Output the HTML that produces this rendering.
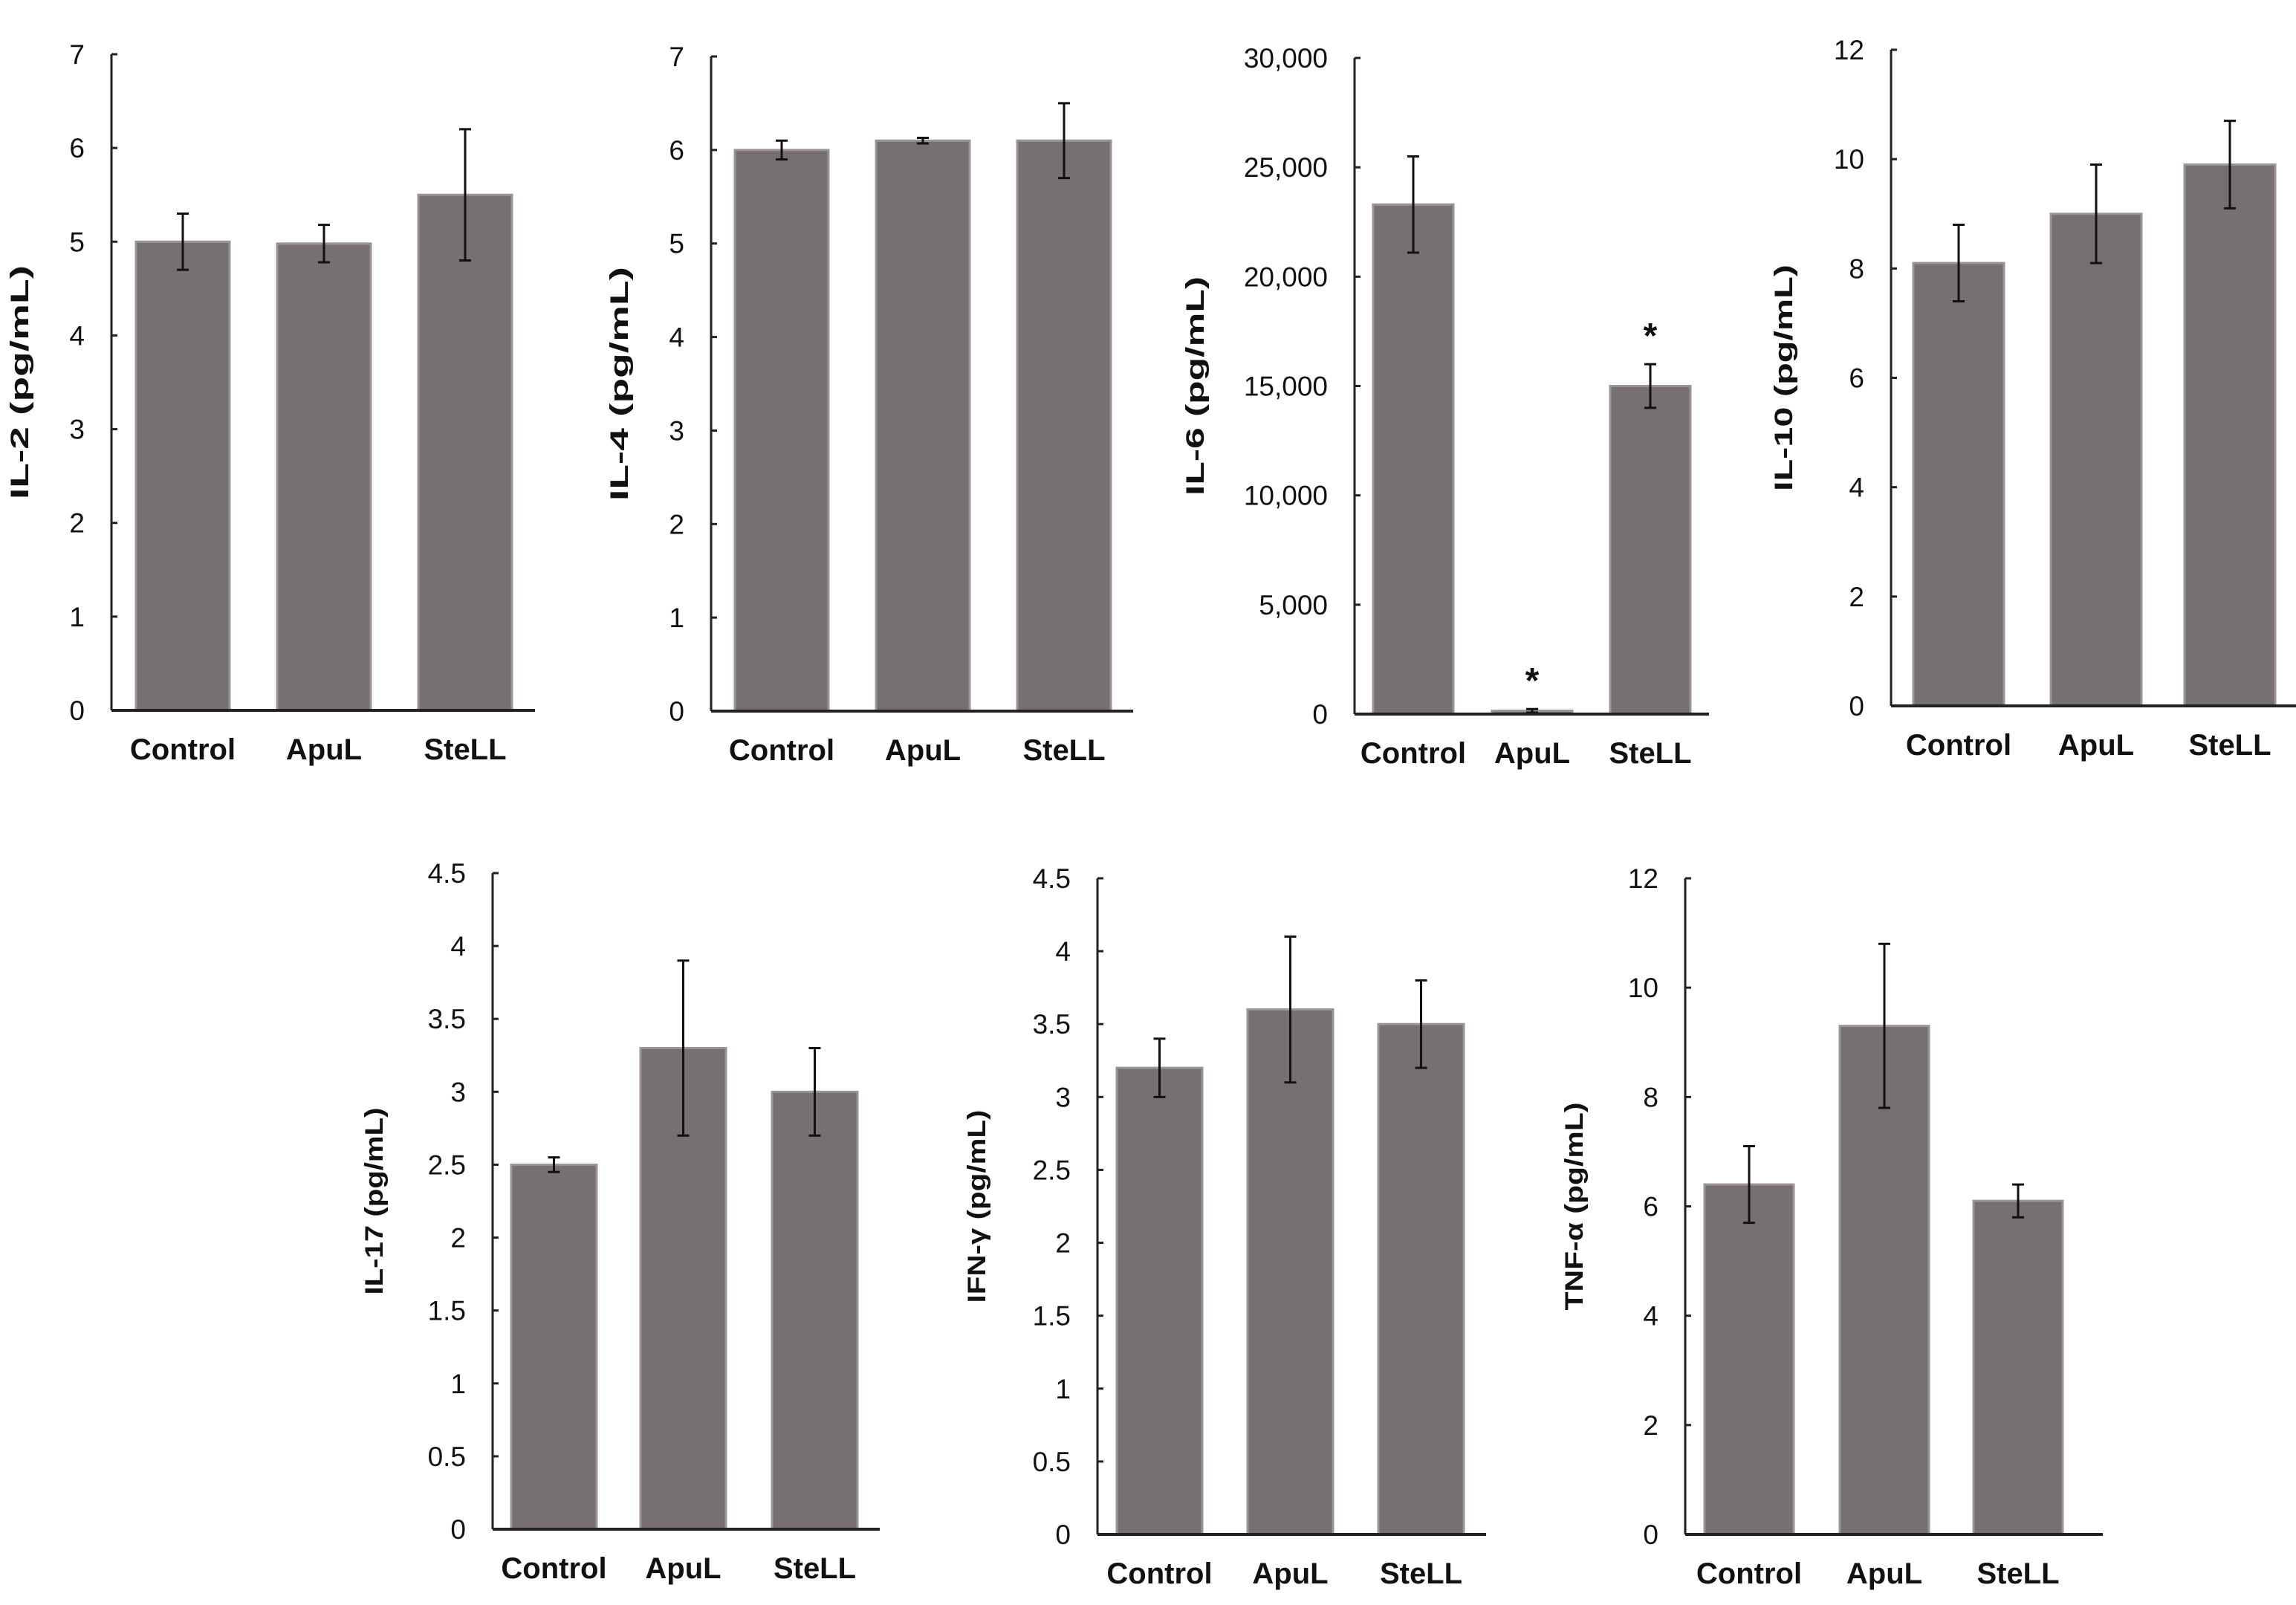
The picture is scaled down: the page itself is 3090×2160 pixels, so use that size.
<!DOCTYPE html>
<html><head><meta charset="utf-8"><style>
html,body{margin:0;padding:0;background:#fff;}
svg{display:block;}
text{font-family:"Liberation Sans",Arial,sans-serif;fill:#111;}
</style></head>
<body>
<svg id="fig" width="3090" height="2160" viewBox="0 0 3090 2160" xmlns="http://www.w3.org/2000/svg"></svg>
<script>
const categories = ["Control","ApuL","SteLL"];
const il2Values = [5.0, 4.98, 5.5];
const il2Errors = [0.3, 0.2, 0.7];
const il4Values = [6.0, 6.1, 6.1];
const il4Errors = [0.1, 0.03, 0.4];
const il6Values = [23300, 150, 15000];
const il6Errors = [2200, 80, 1000];
const il6Stars = [false, true, true];
const il10Values = [8.1, 9.0, 9.9];
const il10Errors = [0.7, 0.9, 0.8];
const il17Values = [2.5, 3.3, 3.0];
const il17Errors = [0.05, 0.6, 0.3];
const ifnValues = [3.2, 3.6, 3.5];
const ifnErrors = [0.2, 0.5, 0.3];
const tnfValues = [6.4, 9.3, 6.1];
const tnfErrors = [0.7, 1.5, 0.3];
const ticks7 = ["0","1","2","3","4","5","6","7"];
const ticksIL6 = ["0","5,000","10,000","15,000","20,000","25,000","30,000"];
const ticks12 = ["0","2","4","6","8","10","12"];
const ticks45 = ["0","0.5","1","1.5","2","2.5","3","3.5","4","4.5"];

const NS = "http://www.w3.org/2000/svg";
const svg = document.getElementById("fig");
function mk(tag, attrs, parent){ const e=document.createElementNS(NS,tag); for(const k in attrs) e.setAttribute(k,attrs[k]); (parent||svg).appendChild(e); return e; }

const panels = [
 {id:"il2", title:"IL-2 (pg/mL)", vals:il2Values, errs:il2Errors, ticks:ticks7, step:1, ax:150, top:73, zero:956, xend:720, bars:[183,373,563], bw:126, tx:38, tl:315},
 {id:"il4", title:"IL-4 (pg/mL)", vals:il4Values, errs:il4Errors, ticks:ticks7, step:1, ax:957, top:76, zero:957, xend:1525, bars:[989,1179,1369], bw:126, tx:845, tl:315},
 {id:"il6", title:"IL-6 (pg/mL)", vals:il6Values, errs:il6Errors, ticks:ticksIL6, step:5000, ax:1823, top:78, zero:961, xend:2300, bars:[1848,2008,2167], bw:108, tx:1620, tl:295, stars:il6Stars},
 {id:"il10", title:"IL-10 (pg/mL)", vals:il10Values, errs:il10Errors, ticks:ticks12, step:2, ax:2545, top:67, zero:950, xend:3090, bars:[2575,2760,2940], bw:122, tx:2412, tl:305},
 {id:"il17", title:"IL-17 (pg/mL)", vals:il17Values, errs:il17Errors, ticks:ticks45, step:0.5, ax:663, top:1175, zero:2058, xend:1184, bars:[688,862,1039], bw:115, tx:515, tl:252},
 {id:"ifn", title:"IFN-γ (pg/mL)", vals:ifnValues, errs:ifnErrors, ticks:ticks45, step:0.5, ax:1477, top:1182, zero:2065, xend:2000, bars:[1503,1679,1855], bw:115, tx:1326, tl:260},
 {id:"tnf", title:"TNF-α  (pg/mL)", vals:tnfValues, errs:tnfErrors, ticks:ticks12, step:2, ax:2268, top:1182, zero:2065, xend:2830, bars:[2294,2476,2656], bw:120, tx:2130, tl:280}
];

panels.forEach(p=>{
  const g = mk("g",{});
  
  
  const maxV = (p.ticks.length-1)*p.step;
  const y = v => p.zero - (v/maxV)*(p.zero-p.top);
  p.vals.forEach((v,i)=>{
    const r = mk("rect",{x:p.bars[i], y:y(v), width:p.bw, height:p.zero-y(v), fill:"#767070", stroke:"#9a9494", "stroke-width":3}, g);
    
    
    const cx = p.bars[i]+p.bw/2, e=p.errs[i];
    const eb = mk("path",{d:`M${cx},${y(v+e)}V${y(v-e)}M${cx-8},${y(v+e)}H${cx+8}M${cx-8},${y(v-e)}H${cx+8}`, stroke:"#111", "stroke-width":3, fill:"none"}, g);
    
    
    if(p.stars && p.stars[i]){
      const s = mk("text",{x:cx, y:y(v+e)-22, "text-anchor":"middle", "font-size":48, "font-weight":"bold"}, g);
      s.textContent="*";
      
      
    }
    const xl = mk("text",{x:cx, y:p.zero+66, "text-anchor":"middle", "font-size":40, "font-weight":"bold"}, g);
    xl.textContent = categories[i];
    
    
  });
  const ya = mk("line",{x1:p.ax, y1:p.top, x2:p.ax, y2:p.zero, stroke:"#222", "stroke-width":3}, g);
  
  
  const xa = mk("line",{x1:p.ax, y1:p.zero, x2:p.xend, y2:p.zero, stroke:"#222", "stroke-width":4}, g);
  
  
  p.ticks.forEach((t,i)=>{
    const ty = y(i*p.step);
    mk("line",{x1:p.ax, y1:ty, x2:p.ax+8, y2:ty, stroke:"#222", "stroke-width":3}, g);
    const tl = mk("text",{x:p.ax-36, y:ty+13, "text-anchor":"end", "font-size":37}, g);
    tl.textContent = t;
    
    
  });
  const cy = (p.top+p.zero)/2;
  const yt = mk("text",{x:p.tx, y:cy, "text-anchor":"middle", "font-size":34, "font-weight":"bold", textLength:p.tl, lengthAdjust:"spacingAndGlyphs", transform:`rotate(-90 ${p.tx} ${cy})`}, g);
  yt.textContent = p.title;
  
  
});
</script>
</body></html>
